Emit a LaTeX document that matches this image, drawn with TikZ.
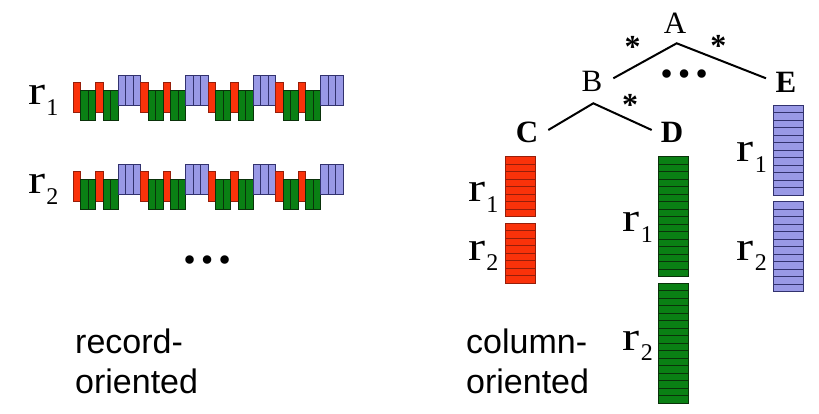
\documentclass[tikz,border=0pt]{standalone}
\usepackage{fontspec}
\setmainfont{Liberation Serif}
\setsansfont{Liberation Sans}
\definecolor{recred}{RGB}{250,50,10}
\definecolor{recredd}{RGB}{150,30,10}
\definecolor{recgreen}{RGB}{10,128,20}
\definecolor{recgreend}{RGB}{10,50,10}
\definecolor{recblue}{RGB}{153,153,230}
\definecolor{recblued}{RGB}{50,50,110}
\newcommand\rlab[1]{{\fontsize{41}{41}\selectfont\scalebox{1.25}[1]{r}}\kern1pt\raisebox{-10.5pt}{\fontsize{24}{24}\selectfont #1}}
\begin{document}
\begin{tikzpicture}[x=1pt,y=-1pt,
  cellred/.style={fill=recred,draw=recredd,line width=0.8pt},
  cellgreen/.style={fill=recgreen,draw=recgreend,line width=0.8pt},
  cellblue/.style={fill=recblue,draw=recblued,line width=0.8pt},
  rlabel/.style={anchor=base west,inner sep=0pt},
  caption/.style={anchor=base west,inner sep=0pt,align=left,font=\sffamily\fontsize{34}{40}\selectfont},
  treelab/.style={inner sep=0pt,anchor=base,font=\fontsize{31}{31}\selectfont},
  treebold/.style={treelab,font=\fontsize{31}{31}\selectfont\bfseries},
  star/.style={inner sep=0pt,anchor=base,font=\fontsize{32}{32}\selectfont\bfseries},
  dots/.style={inner sep=0pt,anchor=base,font=\fontsize{52}{52}\selectfont\bfseries},
  edge/.style={line width=2pt,black}]
\useasboundingbox (0,0) rectangle (819,413);
% ---------- record-oriented ----------
\foreach \dy in {0,89}{
  \foreach \p in {0,...,3}{
    \pgfmathsetmacro\xo{73+67.5*\p}
    \draw[cellred] (\xo,82.5+\dy) rectangle +(7.5,30);
    \draw[cellred] (\xo+22.5,82.5+\dy) rectangle +(7.5,30);
    \foreach \k in {1,2,4,5}{
      \draw[cellgreen] (\xo+7.5*\k,90+\dy) rectangle +(7.5,30);
    }
    \foreach \k in {6,7,8}{
      \draw[cellblue] (\xo+7.5*\k,75+\dy) rectangle +(7.5,30);
    }
  }
}
\node[rlabel] (rr1) at (28,104.5) {\rlab{1}};
\node[rlabel] (rr2) at (28,193.5) {\rlab{2}};
\node[dots] (ldots) at (207,263.3) {…};
\node[caption] (cap1) at (75,393) {record-\\oriented};
% ---------- column-oriented ----------
\foreach \yo in {156.7,223.3}{
  \foreach \i in {0,...,7}{
    \draw[cellred] (505,\yo+7.5*\i) rectangle +(30,7.5);
  }
}
\foreach \yo in {156.7,283.3}{
  \foreach \i in {0,...,15}{
    \draw[cellgreen] (658.5,\yo+7.5*\i) rectangle +(30,7.5);
  }
}
\foreach \yo in {105,201.7}{
  \foreach \i in {0,...,11}{
    \draw[cellblue] (773.3,\yo+7.5*\i) rectangle +(30,7.5);
  }
}
\node[rlabel] (cr1) at (468,201.5) {\rlab{1}};
\node[rlabel] (cr2) at (468,260) {\rlab{2}};
\node[rlabel] (dr1) at (622.5,231.5) {\rlab{1}};
\node[rlabel] (dr2) at (622.5,350) {\rlab{2}};
\node[rlabel] (er1) at (736.5,161.5) {\rlab{1}};
\node[rlabel] (er2) at (736.5,260) {\rlab{2}};
\node[caption] (cap2) at (466,393) {column-\\oriented};
% ---------- tree ----------
\node[treelab] (A) at (675,33.5) {A};
\node[treelab] (B) at (592,91.5) {B};
\node[treebold] (C) at (527,142.5) {C};
\node[treebold] (D) at (672,142.5) {D};
\node[treebold] (E) at (786,92) {E};
\coordinate (Aj) at (676.7,43.3);
\coordinate (Bl) at (613.3,78.3);
\coordinate (El) at (766,78.3);
\coordinate (Bj) at (593.3,103.3);
\coordinate (Cl) at (548.3,130);
\coordinate (Dl) at (651.7,130);
\draw[edge] (Bl) -- (Aj) -- (El);
\draw[edge] (Cl) -- (Bj) -- (Dl);
\node[star] (s1) at (632.7,57) {*};
\node[star] (s2) at (718.3,56.5) {*};
\node[star] (s3) at (630,115.5) {*};
\node[dots] (tdots) at (684.5,77.6) {…};
\end{tikzpicture}
\end{document}
